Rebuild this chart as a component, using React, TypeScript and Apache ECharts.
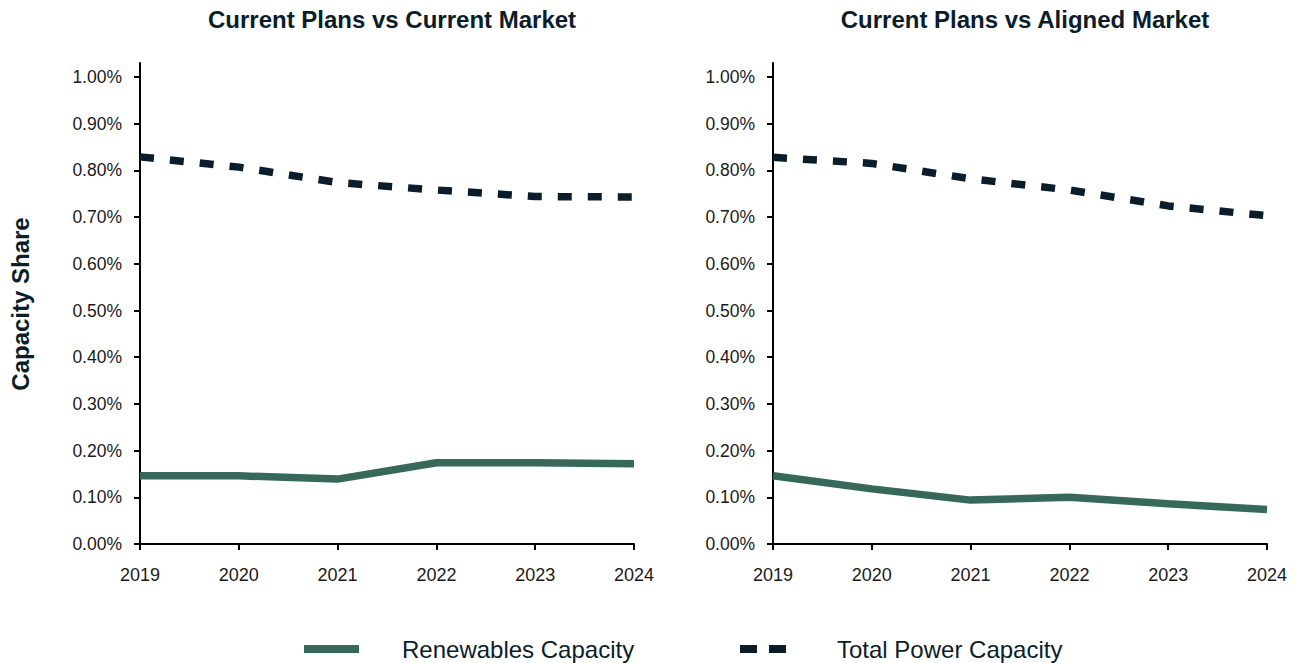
import React, { useEffect, useRef } from "react";
import * as echarts from "echarts";

const years = ["2019", "2020", "2021", "2022", "2023", "2024"];
const currentRenewables = [0.146, 0.146, 0.139, 0.174, 0.174, 0.172];
const currentTotal = [0.829, 0.807, 0.774, 0.758, 0.744, 0.743];
const alignedRenewables = [0.146, 0.118, 0.094, 0.1, 0.086, 0.074];
const alignedTotal = [0.828, 0.815, 0.782, 0.758, 0.724, 0.703];
const yTicks = [0, 0.1, 0.2, 0.3, 0.4, 0.5, 0.6, 0.7, 0.8, 0.9, 1.0];
const panelTitles = ["Current Plans vs Current Market", "Current Plans vs Aligned Market"];
const seriesNames = ["Renewables Capacity", "Total Power Capacity"];
const yAxisTitle = "Capacity Share";

const FONT = "'Liberation Sans', Arial, sans-serif";
const GREEN = "#37695b";
const NAVY = "#0b1d2a";
const TEXT = "#1a1a1a";

export default function App() {
  const ref = useRef<HTMLDivElement>(null);

  useEffect(() => {
    document.body.style.margin = "0";
    if (!ref.current) return;
    const chart = echarts.init(ref.current, undefined, { renderer: "svg" });

    const gridLefts = [140, 773];
    const gridWidth = 494;

    const xAxes = gridLefts.map((_, i) => ({
      type: "category",
      gridIndex: i,
      data: years,
      boundaryGap: false,
      axisLine: { lineStyle: { color: "#000", width: 2 } },
      axisTick: { show: true, length: 6, lineStyle: { color: "#000", width: 2 } },
      axisLabel: { fontSize: 18, color: TEXT, fontFamily: FONT, margin: 22, interval: 0 },
      splitLine: { show: false },
    }));

    const yAxes = gridLefts.map((_, i) => ({
      type: "value",
      gridIndex: i,
      min: 0,
      max: 1.03,
      axisLine: { show: true, lineStyle: { color: "#000", width: 2 } },
      axisTick: {
        show: true,
        length: 6,
        customValues: yTicks,
        lineStyle: { color: "#000", width: 2 },
      },
      axisLabel: {
        customValues: yTicks,
        fontSize: 17.5,
        color: TEXT,
        fontFamily: FONT,
        margin: 18,
        formatter: (v: number) => v.toFixed(2) + "%",
      },
      splitLine: { show: false },
    }));

    const mkLine = (name: string, data: number[], idx: number, dashed: boolean) => ({
      type: "line",
      name,
      data,
      xAxisIndex: idx,
      yAxisIndex: idx,
      symbol: "none",
      showSymbol: false,
      lineStyle: dashed
        ? { color: NAVY, width: 7.5, type: [14, 16], cap: "butt" }
        : { color: GREEN, width: 7.5, cap: "butt" },
      itemStyle: { color: dashed ? NAVY : GREEN },
    });

    chart.setOption({
      animation: false,
      backgroundColor: "#ffffff",
      title: panelTitles.map((t, i) => ({
        text: t,
        left: gridLefts[i] + gridWidth / 2,
        top: 2,
        textAlign: "center",
        textStyle: { fontSize: 24, fontWeight: "bold", color: NAVY, fontFamily: FONT },
      })),
      grid: gridLefts.map((l) => ({ left: l, width: gridWidth, top: 63, height: 481 })),
      xAxis: xAxes,
      yAxis: yAxes,
      legend: [
        {
          data: [seriesNames[0]],
          left: 304,
          top: 637,
          padding: 0,
          icon: "rect",
          itemWidth: 55,
          itemHeight: 8,
          textStyle: { fontSize: 24, color: NAVY, fontFamily: FONT, padding: [0, 0, 0, 38] },
          selectedMode: false,
        },
        {
          data: [seriesNames[1]],
          left: 740,
          top: 637,
          padding: 0,
          icon: "path://M0 0H17V8H0Z M29 0H46V8H29Z",
          itemWidth: 46,
          itemHeight: 8,
          textStyle: { fontSize: 24, color: NAVY, fontFamily: FONT, padding: [0, 0, 0, 46] },
          selectedMode: false,
        },
      ],
      graphic: [
        {
          type: "text",
          x: 20,
          y: 304,
          rotation: Math.PI / 2,
          style: {
            text: yAxisTitle,
            font: `bold 24px ${FONT}`,
            fill: NAVY,
            textAlign: "center",
            textVerticalAlign: "middle",
          },
        },
      ],
      series: [
        mkLine(seriesNames[0], currentRenewables, 0, false),
        mkLine(seriesNames[1], currentTotal, 0, true),
        mkLine(seriesNames[0], alignedRenewables, 1, false),
        mkLine(seriesNames[1], alignedTotal, 1, true),
      ],
    });

    return () => chart.dispose();
  }, []);

  return <div ref={ref} style={{ width: 1298, height: 663 }} />;
}
